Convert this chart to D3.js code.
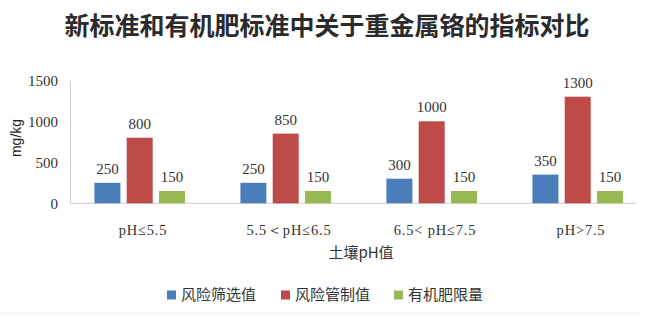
<!DOCTYPE html>
<html>
<head>
<meta charset="utf-8">
<script src="https://cdn.jsdelivr.net/npm/d3@7"></script>
<style>
  html, body { margin: 0; padding: 0; background: #fff; }
  svg { display: block; }
</style>
</head>
<body>
<svg id="chart" width="659" height="323"></svg>
<script>
// Chromium limits per soil pH class (mg/kg)
const categories = ["pH≤5.5", "5.5＜pH≤6.5", "6.5< pH≤7.5", "pH>7.5"];
const seriesNames = ["风险筛选值", "风险管制值", "有机肥限量"];
const screeningValues = [250, 250, 300, 350];
const controlValues = [800, 850, 1000, 1300];
const fertilizerLimits = [150, 150, 150, 150];
const yTicks = [0, 500, 1000, 1500];
const colors = ["#4a7ebb", "#be4b48", "#98b954"];

const seriesValues = [screeningValues, controlValues, fertilizerLimits];
const rows = categories.map((c, i) => ({
  cat: c,
  vals: seriesNames.map((s, j) => ({ key: s, value: seriesValues[j][i], idx: j }))
}));

const svg = d3.select("#chart");
const serif = "'Liberation Serif', 'DejaVu Serif', serif";
const cjk = "'Noto Sans CJK SC', 'Noto Sans', sans-serif";

const plotLeft = 70, plotTop = 80.3, plotBottom = 203.3;
const x = d3.scaleBand().domain(categories).range([plotLeft, plotLeft + 4 * 146]).paddingInner(0).paddingOuter(0);
const y = d3.scaleLinear().domain([0, 1500]).range([plotBottom, plotTop]);
const barW = 26, barStep = 32.3;

// Title
svg.append("text")
  .attr("x", 327).attr("y", 35)
  .attr("text-anchor", "middle")
  .attr("font-family", cjk)
  .attr("font-weight", "bold")
  .attr("font-size", 25)
  .attr("fill", "#2b2b2b")
  .text("新标准和有机肥标准中关于重金属铬的指标对比");

// Y axis
const yAxis = d3.axisLeft(y).tickValues(yTicks).tickFormat(d3.format("d")).tickSize(0).tickPadding(12);
const gy = svg.append("g").attr("transform", `translate(${plotLeft},0)`).call(yAxis);
gy.select(".domain").attr("stroke", "#cfcfcf").attr("stroke-width", 1);
gy.selectAll("text")
  .attr("font-family", serif).attr("font-size", 15).attr("fill", "#333")
  .attr("dy", "0.35em");

// X axis baseline and labels
svg.append("line")
  .attr("x1", plotLeft).attr("x2", 636)
  .attr("y1", plotBottom).attr("y2", plotBottom)
  .attr("stroke", "#cfcfcf").attr("stroke-width", 1);

const xAxis = d3.axisBottom(x).tickSize(0).tickPadding(21);
const gx = svg.append("g").attr("transform", `translate(0,${plotBottom})`).call(xAxis);
gx.select(".domain").remove();
gx.selectAll("text")
  .attr("font-family", serif).attr("font-size", 14.5).attr("fill", "#333")
  .attr("letter-spacing", 0.8);

// Bars
const groups = svg.append("g").selectAll("g").data(rows).join("g")
  .attr("transform", d => `translate(${x(d.cat) + x.bandwidth() / 2 - 3.3},0)`);

groups.selectAll("rect").data(d => d.vals).join("rect")
  .attr("x", d => (d.idx - 1) * barStep - barW / 2)
  .attr("y", d => y(d.value))
  .attr("width", barW)
  .attr("height", d => plotBottom - y(d.value))
  .attr("fill", d => colors[d.idx]);

groups.selectAll("text").data(d => d.vals).join("text")
  .attr("x", d => (d.idx - 1) * barStep)
  .attr("y", d => y(d.value) - 9)
  .attr("text-anchor", "middle")
  .attr("font-family", serif).attr("font-size", 15).attr("fill", "#333")
  .text(d => d.value);

// Axis titles
svg.append("text")
  .attr("transform", "translate(21,138) rotate(-90)")
  .attr("text-anchor", "middle")
  .attr("font-family", "'Liberation Sans', Arial, sans-serif")
  .attr("font-size", 14).attr("fill", "#222")
  .text("mg/kg");

svg.append("text")
  .attr("x", 361).attr("y", 258)
  .attr("text-anchor", "middle")
  .attr("font-family", cjk)
  .attr("font-size", 15).attr("fill", "#333")
  .text("土壤pH值");

// Legend
const legendX = [167, 281, 394];
const legend = svg.append("g").selectAll("g").data(seriesNames).join("g")
  .attr("transform", (d, i) => `translate(${legendX[i]},295)`);
legend.append("rect")
  .attr("x", 0).attr("y", -4.5).attr("width", 9).attr("height", 9)
  .attr("fill", (d, i) => colors[i]);
legend.append("text")
  .attr("x", 14).attr("y", 0).attr("dy", "0.35em")
  .attr("font-family", cjk).attr("font-size", 15).attr("fill", "#333")
  .text(d => d);

// Faint frame line at the bottom
svg.append("line")
  .attr("x1", 0).attr("x2", 640).attr("y1", 313).attr("y2", 313)
  .attr("stroke", "#ececec").attr("stroke-width", 1);
</script>
</body>
</html>
